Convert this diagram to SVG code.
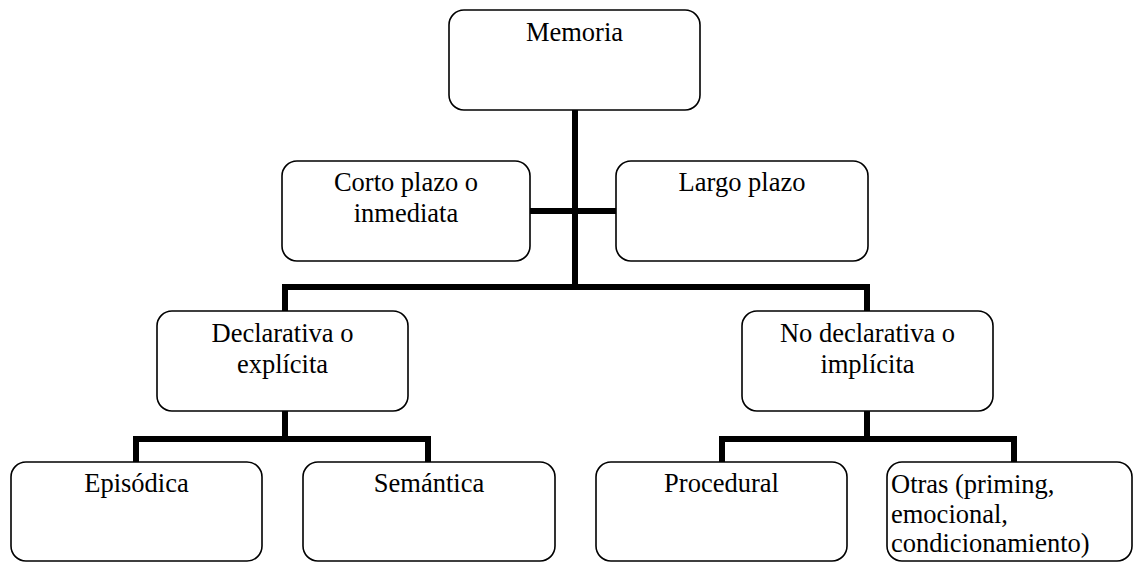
<svg xmlns="http://www.w3.org/2000/svg" width="1134" height="563" viewBox="0 0 1134 563">
<style>
.box{fill:#fff;stroke:#000;stroke-width:1.6}
.lbl{font-family:"Liberation Serif","Times New Roman",serif;font-size:26.5px;fill:#000}
.c{text-anchor:middle}
.con{fill:none;stroke:#000;stroke-width:6;stroke-linejoin:miter;stroke-linecap:butt}
</style>
<rect width="1134" height="563" fill="#fff"/>
<g id="connectors">
<path class="con" d="M575 110 V290"/>
<path class="con" d="M530 211 H616"/>
<path class="con" d="M285 311 V287 H867 V311"/>
<path class="con" d="M285 411 V439"/>
<path class="con" d="M136 462 V439 H428 V462"/>
<path class="con" d="M867 411 V439"/>
<path class="con" d="M722 462 V439 H1014 V462"/>
</g>
<g id="memoria">
<rect class="box" x="449" y="10" width="251" height="100" rx="15"/>
<text class="lbl c" x="574.5" y="41">Memoria</text>
</g>
<g id="corto">
<rect class="box" x="282" y="161" width="248" height="100" rx="15"/>
<text class="lbl c" x="406" y="191">Corto plazo o</text>
<text class="lbl c" x="406" y="222">inmediata</text>
</g>
<g id="largo">
<rect class="box" x="616" y="161" width="252" height="100" rx="15"/>
<text class="lbl c" x="742" y="191">Largo plazo</text>
</g>
<g id="declarativa">
<rect class="box" x="157" y="311" width="251" height="100" rx="15"/>
<text class="lbl c" x="282.5" y="342">Declarativa o</text>
<text class="lbl c" x="282.5" y="373">explícita</text>
</g>
<g id="nodeclarativa">
<rect class="box" x="742" y="311" width="251" height="100" rx="15"/>
<text class="lbl c" x="867.5" y="342">No declarativa o</text>
<text class="lbl c" x="867.5" y="373">implícita</text>
</g>
<g id="episodica">
<rect class="box" x="11" y="462" width="251" height="99" rx="15"/>
<text class="lbl c" x="136.5" y="492">Episódica</text>
</g>
<g id="semantica">
<rect class="box" x="303" y="462" width="252" height="99" rx="15"/>
<text class="lbl c" x="429" y="492">Semántica</text>
</g>
<g id="procedural">
<rect class="box" x="596" y="462" width="251" height="99" rx="15"/>
<text class="lbl c" x="721.5" y="492">Procedural</text>
</g>
<g id="otras">
<rect class="box" x="887" y="462" width="245" height="99" rx="15"/>
<text class="lbl" x="891" y="493">Otras (priming,</text>
<text class="lbl" x="891" y="523">emocional,</text>
<text class="lbl" x="891" y="552">condicionamiento)</text>
</g>
</svg>
